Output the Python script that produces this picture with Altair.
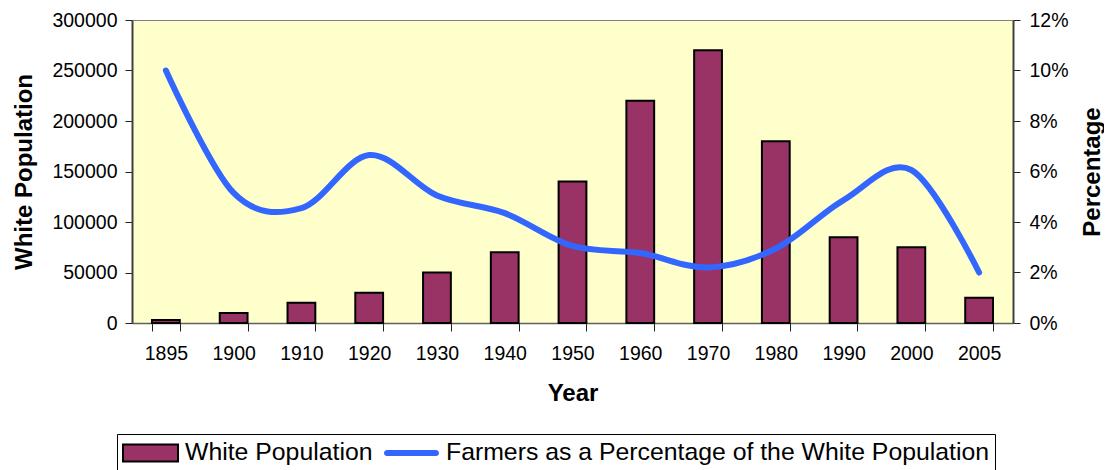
import altair as alt
import pandas as pd

# ---- data ----
years = ["1895", "1900", "1910", "1920", "1930", "1940", "1950",
         "1960", "1970", "1980", "1990", "2000", "2005"]
white_population = [3000, 10000, 20000, 30000, 50000, 70000, 140000,
                    220000, 270000, 180000, 85000, 75000, 25000]
farmer_pct = [0.100, 0.0515, 0.0455, 0.0665, 0.0505, 0.0435, 0.0305,
              0.0277, 0.0220, 0.0295, 0.0487, 0.0606, 0.0200]
series_names = ["White Population",
                "Farmers as a Percentage of the White Population"]
series_colors = ["#993366", "#3366FF"]
pop_ticks = [0, 50000, 100000, 150000, 200000, 250000, 300000]
pct_ticks = [0, 0.02, 0.04, 0.06, 0.08, 0.10, 0.12]

df = pd.DataFrame({
    "year": years,
    "pop": white_population,
    "pct": farmer_pct,
    "series": [series_names[0]] * len(years),
})

FONT = "Liberation Sans"

bar_path = "M-1,-0.31H1V0.31H-1Z"
line_path = ("M-0.89,-0.11H0.89A0.11,0.11 0 0 1 0.89,0.11"
             "H-0.89A0.11,0.11 0 0 1 -0.89,-0.11Z")

x_enc = alt.X(
    "year:N", sort=years,
    scale=alt.Scale(paddingInner=0.59, paddingOuter=0.295),
    axis=alt.Axis(title="Year", labelAngle=0, tickBand="extent", tickSize=8,
                  labelPadding=13, labelFontSize=19.5, titleFontSize=24,
                  titleFontWeight="bold", titlePadding=19,
                  domainColor="#606060", domainWidth=1.5, tickColor="#202020"),
)

bars = alt.Chart(df).mark_bar(stroke="black", strokeWidth=2).encode(
    x=x_enc,
    y=alt.Y("pop:Q", scale=alt.Scale(domain=[0, 300000], nice=False),
            axis=alt.Axis(title="White Population", values=pop_ticks, format="d",
                          tickSize=7, labelPadding=8, labelFontSize=19.5,
                          titleFontSize=24, titleFontWeight="bold", titlePadding=15,
                          domainColor="#404040", domainWidth=2, tickColor="#202020")),
    color=alt.Color(
        "series:N",
        scale=alt.Scale(domain=series_names, range=series_colors),
        legend=alt.Legend(
            title=None, orient="none", legendX=-15, legendY=414,
            direction="horizontal",
            symbolType={"expr": f"datum.value == '{series_names[0]}' ? '{bar_path}' : '{line_path}'"},
            symbolSize=3025,
            symbolStrokeColor={"expr": f"datum.value == '{series_names[0]}' ? 'black' : 'transparent'"},
            symbolStrokeWidth=2, symbolOpacity=1,
            labelFontSize=24.8, labelFont=FONT, labelColor="black",
            labelOffset=6, labelLimit=1000, columnPadding=10,
            strokeColor="black", fillColor="white", padding=5, clipHeight=28,
        ),
    ),
)

line = alt.Chart(df).mark_line(
    interpolate="cardinal", strokeWidth=6, strokeCap="round", color="#3366FF"
).encode(
    x=x_enc,
    y=alt.Y("pct:Q", scale=alt.Scale(domain=[0, 0.12], nice=False),
            axis=alt.Axis(title="Percentage", orient="right", values=pct_ticks,
                          format=".0%", tickSize=7, labelPadding=9,
                          labelFontSize=19.5, titleFontSize=24,
                          titleFontWeight="bold", titleAngle=270,
                          titleBaseline="top", titlePadding=12,
                          domainColor="#404040", domainWidth=2,
                          tickColor="#202020")),
)

chart = alt.layer(bars, line).resolve_scale(y="independent").properties(
    width=881, height=303,
    padding={"left": 124, "top": 12, "right": 91, "bottom": 150},
    autosize=alt.AutoSizeParams(type="none"),
    background="white",
).configure_view(
    fill="#FFFFCC", stroke="#808080", strokeWidth=1
).configure_axis(
    grid=False, labelFont=FONT, titleFont=FONT, labelColor="black",
    titleColor="black"
)

chart.save("out.html", embed_options={"renderer": "svg", "actions": False})
